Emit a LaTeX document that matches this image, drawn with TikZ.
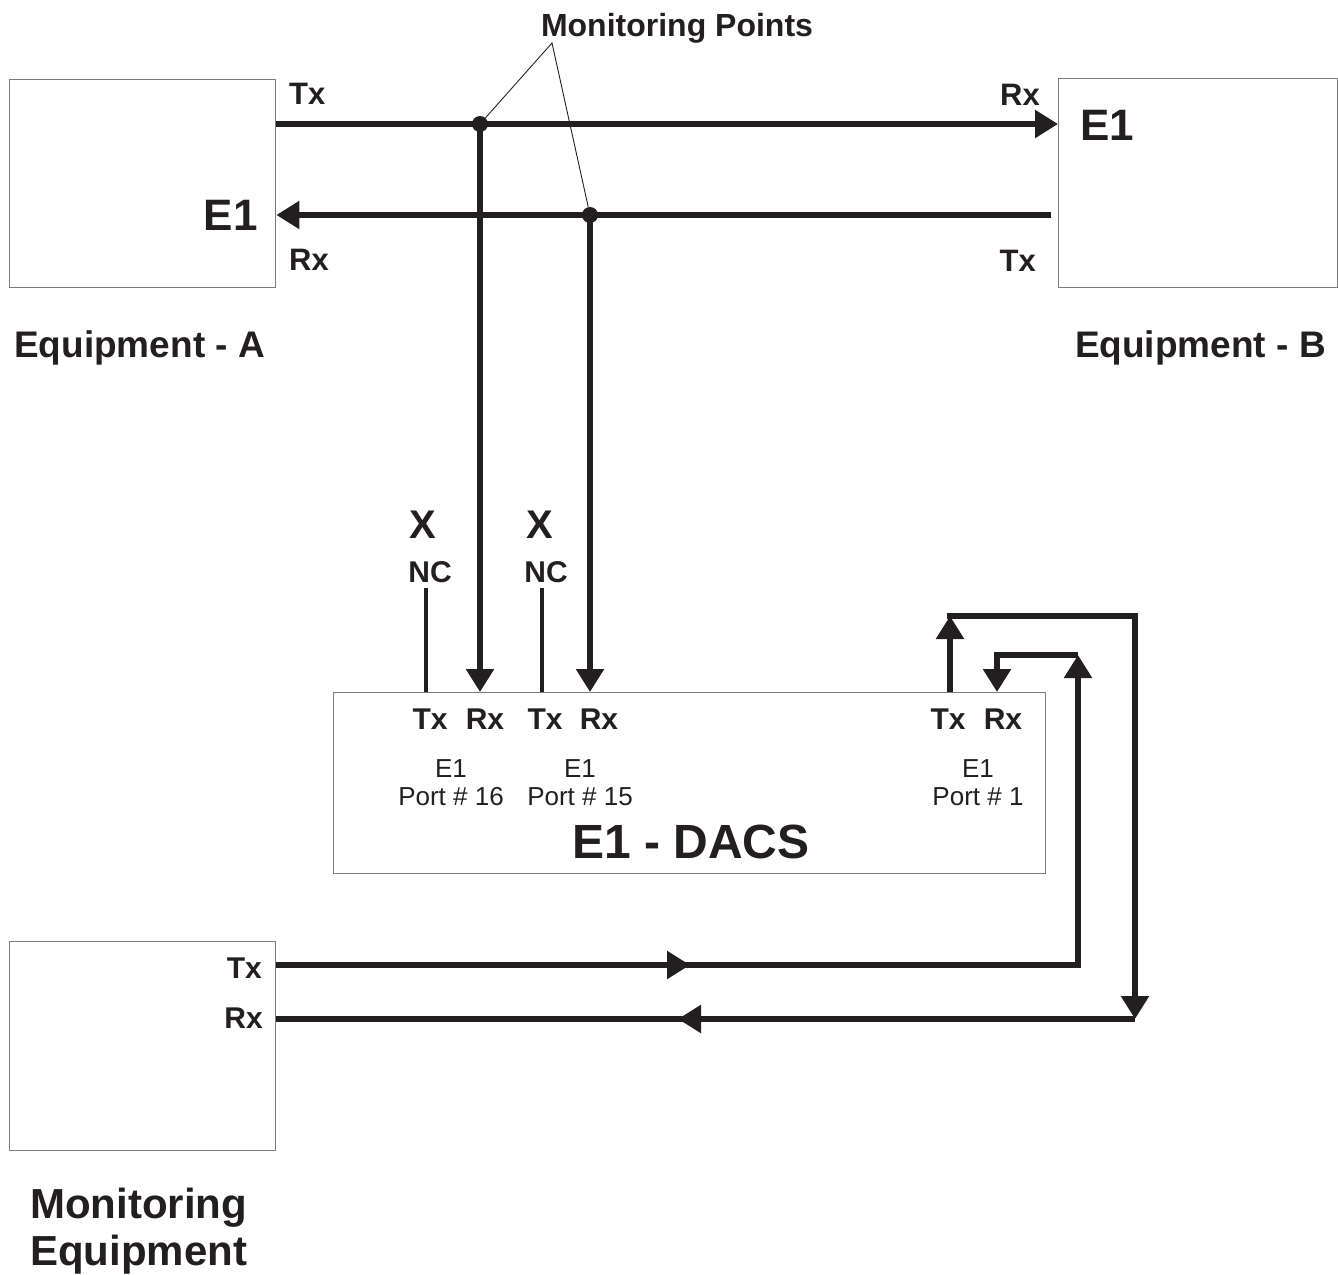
\documentclass[tikz,border=0pt]{standalone}
\usepackage{fontspec}
\setmainfont{Liberation Sans}
\usetikzlibrary{arrows.meta,positioning,calc}
\definecolor{ink}{RGB}{35,31,32}
\definecolor{boxgray}{RGB}{125,125,125}
\newcommand{\fsz}[1]{\fontsize{#1}{#1}\selectfont}

\begin{document}
\begin{tikzpicture}[x=1pt, y=-1pt,
    >={Triangle[length=23pt,width=27pt]},
    box/.style={draw=boxgray, line width=1.4pt, anchor=north west, inner sep=0pt},
    sig/.style={draw=ink, line width=5.5pt},
    ncl/.style={draw=ink, line width=4pt},
    lead/.style={draw=ink, line width=0.9pt},
    dot/.style={circle, fill=ink, inner sep=0pt, minimum size=16pt},
    lbl/.style={text=ink, font=\bfseries\fsz{30}, inner sep=0pt},
    port/.style={text=ink, font=\fsz{26}, inner sep=0pt}]
    \useasboundingbox (0,0) rectangle (1338,1274);

    % boxes
    \node[box, minimum width=266pt, minimum height=208pt] (eqa) at (9,79) {};
    \node[box, minimum width=279pt, minimum height=209pt] (eqb) at (1058,78) {};
    \node[box, minimum width=712pt, minimum height=181pt] (dacs) at (333,692) {};
    \node[box, minimum width=266pt, minimum height=209pt] (mon) at (9,941) {};

    % labels
    \node[lbl, anchor=base, font=\bfseries\fsz{32}] (mptxt) at (677,36) {Monitoring Points};
    \node[lbl, anchor=base west, font=\bfseries\fsz{31}] (atx) at (289,104) {Tx};
    \node[lbl, anchor=base west, font=\bfseries\fsz{31}] (arx) at (289,270) {Rx};
    \node[lbl, anchor=base east, font=\bfseries\fsz{44}] (ae1) at (258,230) {E1};
    \node[lbl, anchor=base east, font=\bfseries\fsz{31}] (brx) at (1040,105) {Rx};
    \node[lbl, anchor=base east, font=\bfseries\fsz{31}] (btx) at (1036,271) {Tx};
    \node[lbl, anchor=base west, font=\bfseries\fsz{44}] (be1) at (1080,140) {E1};
    \node[lbl, anchor=base west, font=\bfseries\fsz{37}] (eqatxt) at (14,357) {Equipment - A};
    \node[lbl, anchor=base east, font=\bfseries\fsz{37}] (eqbtxt) at (1326,357) {Equipment - B};

    \node[lbl, anchor=base, font=\bfseries\fsz{40}] (x16) at (423,538) {X};
    \node[lbl, anchor=base, font=\bfseries\fsz{40}] (x15) at (540,538) {X};
    \node[lbl, anchor=base] (nc16) at (430,582) {NC};
    \node[lbl, anchor=base] (nc15) at (546,582) {NC};

    \node[lbl, anchor=base] (tx16) at (430,729) {Tx};
    \node[lbl, anchor=base] (rx16) at (485,729) {Rx};
    \node[lbl, anchor=base] (tx15) at (545,729) {Tx};
    \node[lbl, anchor=base] (rx15) at (599,729) {Rx};
    \node[lbl, anchor=base] (tx1) at (948,729) {Tx};
    \node[lbl, anchor=base] (rx1) at (1003,729) {Rx};
    \node[port, anchor=base] (e16) at (451,777) {E1};
    \node[port, anchor=base] (p16) at (451,805) {Port \# 16};
    \node[port, anchor=base] (e15) at (580,777) {E1};
    \node[port, anchor=base] (p15) at (580,805) {Port \# 15};
    \node[port, anchor=base] (e1p) at (978,777) {E1};
    \node[port, anchor=base] (p1) at (978,805) {Port \# 1};
    \node[lbl, anchor=base, font=\bfseries\fsz{48}] (dacstxt) at (691,858) {E1 - DACS};

    \node[lbl, anchor=base east] (mtx) at (262,978) {Tx};
    \node[lbl, anchor=base east] (mrx) at (263,1028) {Rx};
    \node[lbl, anchor=base west, font=\bfseries\fsz{42}] (montxt) at (30,1218) {Monitoring};
    \node[lbl, anchor=base west, font=\bfseries\fsz{42}] (montxt2) at (30,1265) {Equipment};

    % monitoring points
    \node[dot] (mp1) at (480,124) {};
    \node[dot] (mp2) at (590,215) {};
    \coordinate (mpv) at (552,43);

    % E1 link between A and B
    \draw[sig,->] (eqa.east |- mp1) -- (eqb.west |- mp1);
    \draw[sig,->] ([xshift=-7pt]eqb.west |- mp2) -- (eqa.east |- mp2);
    \draw[lead] (mp1) -- (mpv) -- (mp2);

    % taps into port 16 and 15
    \draw[sig,->] (mp1.center) -- (mp1 |- dacs.north);
    \draw[sig,->] (mp2.center) -- (mp2 |- dacs.north);
    \coordinate (t16) at (426,588);
    \coordinate (t15) at (542,588);
    \draw[ncl] (t16) -- (t16 |- dacs.north);
    \draw[ncl] (t15) -- (t15 |- dacs.north);

    % port 1 to monitoring equipment
    \coordinate (c1) at (950,616);
    \coordinate (c2) at (1135,616);
    \coordinate (c3) at (1135,1019);
    \coordinate (mrxa) at (678,1019);
    \draw[sig,->] (c1 |- dacs.north) -- (c1);
    \draw[sig,->,line cap=rect] (c1) -- (c2) -- (c3);
    \draw[sig,->] (c3) -- (mrxa);
    \draw[sig] ([xshift=8pt]mrxa) -- (mon.east |- mrxa);

    \coordinate (mtxa) at (690,965);
    \coordinate (m1) at (1078,965);
    \coordinate (m2) at (1078,655);
    \coordinate (m3) at (997,655);
    \draw[sig,->] (mon.east |- mtxa) -- (mtxa);
    \draw[sig,->] ([xshift=-8pt]mtxa) -- (m1) -- (m2);
    \draw[sig,->] (m2) -- (m3) -- (m3 |- dacs.north);
\end{tikzpicture}
\end{document}
